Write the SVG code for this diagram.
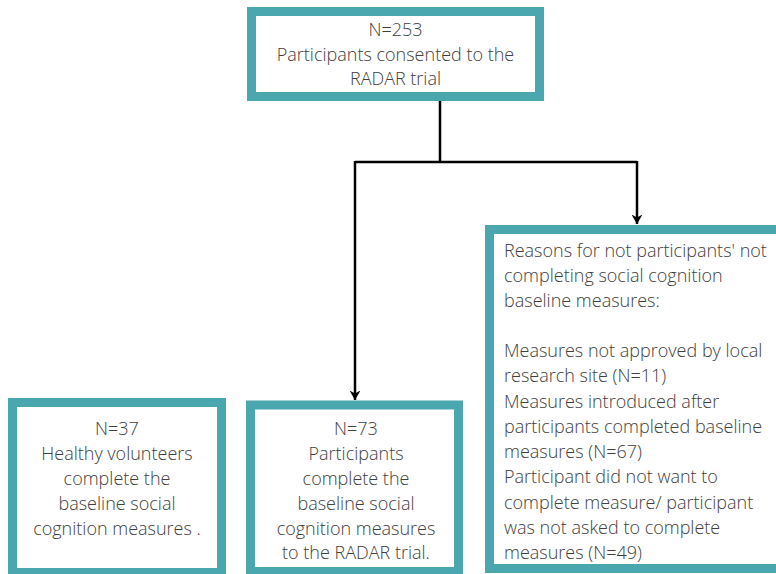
<svg xmlns="http://www.w3.org/2000/svg" width="776" height="574" viewBox="0 0 776 574">
<style>
.box{fill:#ffffff;stroke:#4aa6af;stroke-width:9}
.t{font-family:"Open Sans","Liberation Sans",sans-serif;font-size:18px;font-weight:300;fill:#404040}
.c{text-anchor:middle}
.ln{fill:none;stroke:#000;stroke-width:2.5}
</style>
<defs>
<marker id="ah" markerWidth="10" markerHeight="12" refX="9.5" refY="6" orient="auto" markerUnits="userSpaceOnUse" viewBox="0 0 10 12">
<path d="M0,0.5 L9.5,6 L0,11.5 L3,6 Z" fill="#000"/>
</marker>
</defs>
<rect width="776" height="574" fill="#ffffff"/>
<g id="connectors">
<polyline class="ln" points="440,101 440,162"/>
<polyline class="ln" points="355,162 637,162"/>
<polyline class="ln" points="355,161 355,400" marker-end="url(#ah)"/>
<polyline class="ln" points="637,161 637,224" marker-end="url(#ah)"/>
</g>
<g id="n253">
<rect class="box" x="251.5" y="11.5" width="288" height="85"/>
<text class="t c" x="395.5"><tspan x="395.5" y="36">N=253</tspan><tspan x="395.5" y="61">Participants consented to the</tspan><tspan x="395.5" y="85">RADAR trial</tspan></text>
</g>
<g id="reasons">
<rect class="box" x="489.5" y="229.5" width="300" height="339"/>
<text class="t" x="504"><tspan x="504" y="257">Reasons for not participants' not</tspan><tspan x="504" y="282">completing social cognition</tspan><tspan x="504" y="307">baseline measures:</tspan><tspan x="504" y="357">Measures not approved by local</tspan><tspan x="504" y="382">research site (N=11)</tspan><tspan x="504" y="408">Measures introduced after</tspan><tspan x="504" y="433">participants completed baseline</tspan><tspan x="504" y="458">measures (N=67)</tspan><tspan x="504" y="483">Participant did not want to</tspan><tspan x="504" y="509">complete measure/ participant</tspan><tspan x="504" y="534">was not asked to complete</tspan><tspan x="504" y="559">measures (N=49)</tspan></text>
</g>
<g id="n37">
<rect class="box" x="12.5" y="402.5" width="209" height="170"/>
<text class="t c"><tspan x="117" y="435">N=37</tspan><tspan x="117" y="460">Healthy volunteers</tspan><tspan x="117" y="485">complete the</tspan><tspan x="117" y="510">baseline social</tspan><tspan x="117" y="535">cognition measures .</tspan></text>
</g>
<g id="n73">
<rect class="box" x="250.5" y="405" width="208" height="166.5"/>
<text class="t c"><tspan x="356" y="435">N=73</tspan><tspan x="356" y="460">Participants</tspan><tspan x="356" y="485">complete the</tspan><tspan x="356" y="510">baseline social</tspan><tspan x="356" y="535">cognition measures</tspan><tspan x="356" y="559">to the RADAR trial.</tspan></text>
</g>
</svg>
